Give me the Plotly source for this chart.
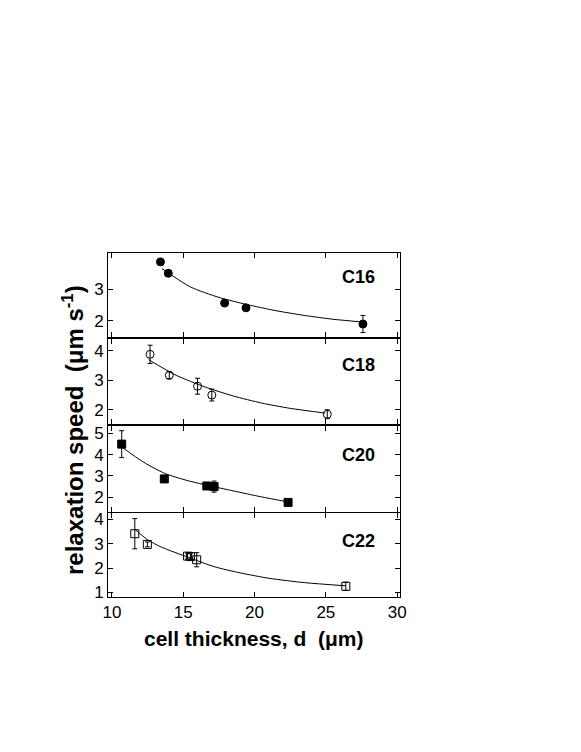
import plotly.graph_objects as go

W, H = 581, 752

# ---- data ----
labels = ["C16", "C18", "C20", "C22"]

d16 = [13.4, 13.95, 17.9, 19.4, 27.6]
v16 = [3.86, 3.50, 2.56, 2.41, 1.90]
e16 = [0.0, 0.0, 0.0, 0.0, 0.27]
fit16_d = [13.5, 15.5, 17.5, 19.5, 21.5, 23.5, 25.5, 27.65]
fit16_v = [3.65, 3.07, 2.74, 2.51, 2.32, 2.17, 2.05, 1.96]

d18 = [12.67, 14.02, 16.0, 17.0, 25.1]
v18 = [3.88, 3.17, 2.80, 2.50, 1.85]
e18 = [0.31, 0.12, 0.27, 0.20, 0.15]
fit18_d = [12.57, 14.5, 16.5, 18.5, 20.5, 22.5, 24.95]
fit18_v = [3.70, 3.17, 2.78, 2.47, 2.23, 2.05, 1.89]

d20 = [10.68, 13.67, 16.65, 17.16, 22.35]
v20 = [4.49, 2.86, 2.53, 2.50, 1.76]
e20 = [0.63, 0.0, 0.0, 0.26, 0.0]
fit20_d = [10.7, 12.2, 13.7, 15.2, 16.7, 18.5, 20.4, 22.35]
fit20_v = [4.35, 3.65, 3.12, 2.80, 2.56, 2.30, 2.03, 1.78]

d22 = [11.6, 12.48, 15.3, 15.5, 15.94, 26.4]
v22 = [3.41, 2.97, 2.49, 2.47, 2.34, 1.25]
e22 = [0.62, 0.10, 0.12, 0.12, 0.29, 0.17]
fit22_d = [11.6, 12.5, 13.5, 15.4, 17.2, 19.0, 21.0, 23.5, 26.4]
fit22_v = [3.59, 3.16, 2.85, 2.43, 2.05, 1.80, 1.58, 1.40, 1.27]

yranges = [[1.49, 4.14], [1.52, 4.40], [1.31, 5.34], [0.81, 4.26]]
yticks = [[2, 3], [2, 3, 4], [2, 3, 4, 5], [1, 2, 3, 4]]
xticks = [10, 15, 20, 25, 30]
xrange_ = [9.72, 30.2]

symbols = ["circle", "circle-open", "square", "square-open"]
series = [(d16, v16, e16, fit16_d, fit16_v),
          (d18, v18, e18, fit18_d, fit18_v),
          (d20, v20, e20, fit20_d, fit20_v),
          (d22, v22, e22, fit22_d, fit22_v)]

# ---- layout geometry (pixels, page has an 8px body margin) ----
OFF = 8
x0, x1 = 108 - OFF, 400 - OFF
panels_px = [(253 - OFF, 337 - OFF), (339 - OFF, 424 - OFF),
             (426 - OFF, 512 - OFF), (513 - OFF, 597 - OFF)]
label_dy = [24, 26, 29, 28]

FONT = "Liberation Sans, Arial, Helvetica, sans-serif"

fig = go.Figure()
layout = dict(
    width=W, height=H, margin=dict(l=0, r=0, t=0, b=0),
    paper_bgcolor="white", plot_bgcolor="white",
    showlegend=False, font=dict(family=FONT, color="black", size=16),
)

annotations = []
for i, (dd, vv, ee, fd, fv) in enumerate(series):
    n = i + 1
    xa = "x" if n == 1 else f"x{n}"
    ya = "y" if n == 1 else f"y{n}"
    fig.add_trace(go.Scatter(x=fd, y=fv, mode="lines",
                             line=dict(color="black", width=1, shape="spline", smoothing=0.7),
                             xaxis=xa, yaxis=ya, hoverinfo="skip"))
    fig.add_trace(go.Scatter(
        x=dd, y=vv, mode="markers", xaxis=xa, yaxis=ya,
        marker=dict(symbol=symbols[i], size=8, color="black",
                    line=dict(color="black", width=1)),
        error_y=dict(type="data", array=ee, visible=True, color="black", thickness=1, width=2.5),
    ))
    top, bot = panels_px[i]
    xkey = "xaxis" if n == 1 else f"xaxis{n}"
    ykey = "yaxis" if n == 1 else f"yaxis{n}"
    layout[xkey] = dict(
        domain=[x0 / W, x1 / W], range=xrange_, anchor=ya,
        tickmode="array", tickvals=xticks, showticklabels=(n == 4),
        ticks="inside", ticklen=5, tickwidth=1, tickcolor="black",
        showline=True, linecolor="black", linewidth=1, mirror="ticks",
        showgrid=False, zeroline=False, automargin=False,
        tickfont=dict(family=FONT, size=17, color="black"),
    )
    layout[ykey] = dict(
        domain=[1 - bot / H, 1 - top / H], range=yranges[i], anchor=xa,
        tickmode="array", tickvals=yticks[i],
        ticks="inside", ticklen=5, tickwidth=1, tickcolor="black",
        showline=True, linecolor="black", linewidth=1, mirror="ticks",
        showgrid=False, zeroline=False, automargin=False,
        tickfont=dict(family=FONT, size=17, color="black"),
    )
    annotations.append(dict(
        text=f"<b>{labels[i]}</b>", x=(358 - OFF) / W, y=1 - (panels_px[i][0] + label_dy[i]) / H,
        xref="paper", yref="paper", showarrow=False, xanchor="center", yanchor="middle",
        font=dict(family=FONT, size=18, color="black"),
    ))

annotations.append(dict(
    text="<b>cell thickness, d  (μm)</b>", x=(253 - OFF) / W, y=1 - (638 - OFF) / H,
    xref="paper", yref="paper", showarrow=False, xanchor="center", yanchor="middle",
    font=dict(family=FONT, size=21, color="black"),
))
annotations.append(dict(
    text="<b>relaxation speed  (μm s<sup>-1</sup>)</b>", x=(73 - OFF) / W, y=1 - (430 - OFF) / H,
    xref="paper", yref="paper", showarrow=False, xanchor="center", yanchor="middle",
    textangle=-90, font=dict(family=FONT, size=24, color="black"),
))
layout["annotations"] = annotations
fig.update_layout(**layout)

fig.write_html("out.html")
